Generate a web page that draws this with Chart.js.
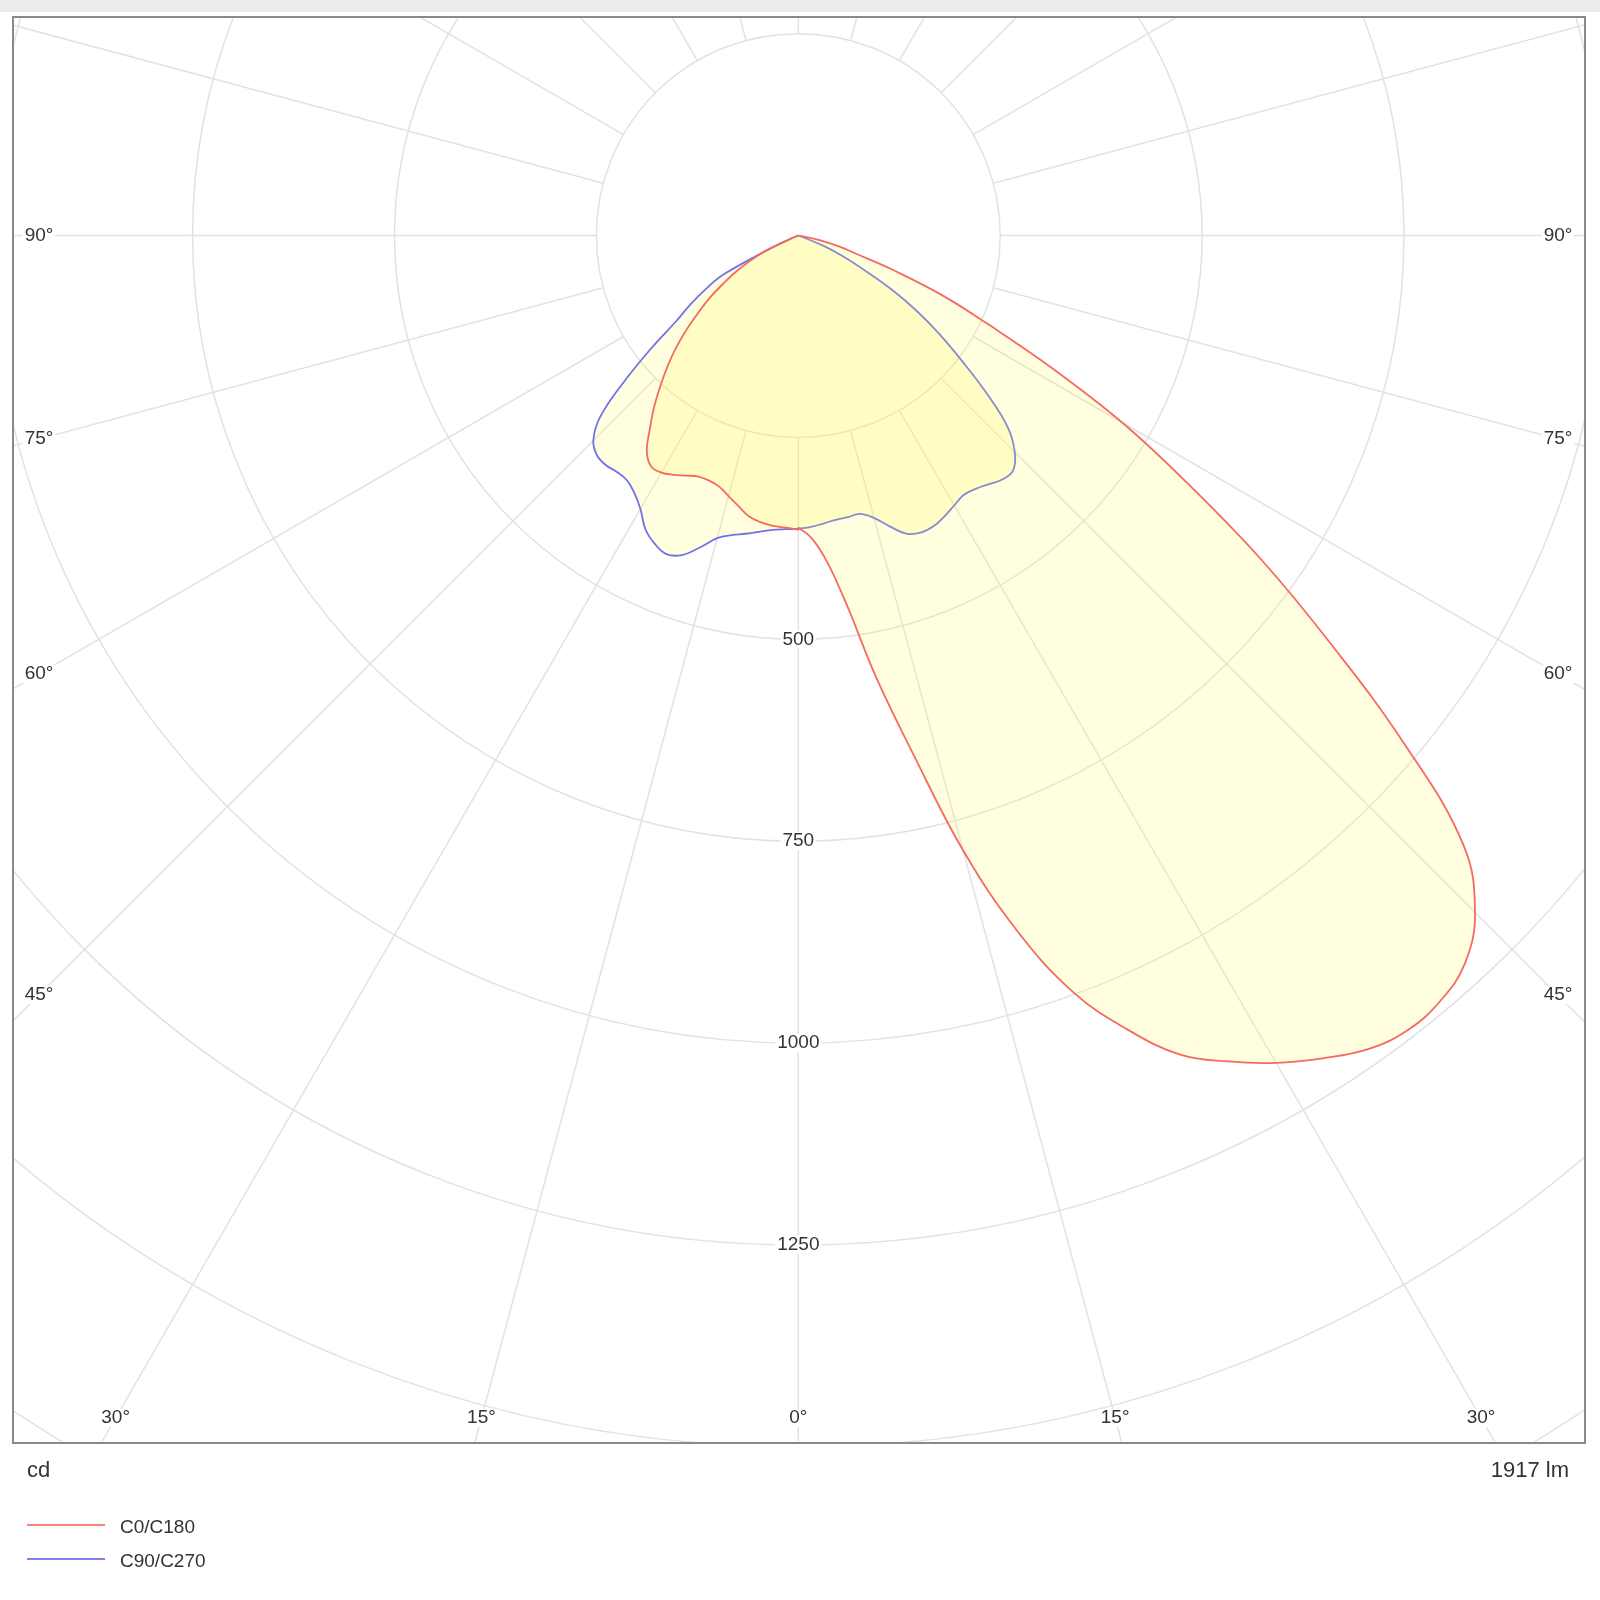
<!DOCTYPE html>
<html lang="en">
<head>
<meta charset="UTF-8">
<title>Polar intensity diagram</title>
<script src="https://cdn.jsdelivr.net/npm/chart.js"></script>
<style>
  body { margin: 0; background: #fff; font-family: "Liberation Sans", Arial, sans-serif; color: #333; }
  #wrap { position: relative; width: 1600px; height: 1600px; overflow: hidden; }
  #topbar { position: absolute; left: 0; top: 0; width: 1600px; height: 12px; background: #ececec; }
  canvas { position: absolute; left: 0; top: 0; }
  .note { position: absolute; top: 1457px; font-size: 22px; line-height: 26px; }
  .leg { position: absolute; left: 27px; width: 78px; height: 2px; }
  .legtxt { position: absolute; left: 120px; font-size: 19px; line-height: 22px; }
</style>
</head>
<body>
<div id="wrap">
  <div id="topbar"></div>
  <canvas id="polar" width="1600" height="1600"></canvas>
  <div class="note" style="left:27px">cd</div>
  <div class="note" style="right:31px">1917 lm</div>
  <div class="leg" style="top:1524px;background:#f8807a"></div>
  <div class="legtxt" style="top:1516px">C0/C180</div>
  <div class="leg" style="top:1558px;background:#8282ee"></div>
  <div class="legtxt" style="top:1550px">C90/C270</div>
</div>

<script>
// gamma angles (degrees from nadir) and intensities in cd
const gamma = [0, 2.5, 5, 7.5, 10, 12.5, 15, 17.5, 20, 22.5, 25, 27.5, 30, 32.5, 35, 37.5, 40, 42.5, 45,
    47.5, 50, 52.5, 55, 57.5, 60, 62.5, 65, 67.5, 70, 72.5, 75, 77.5, 80, 82.5, 85, 87.5, 90];
const c0 = [362, 375, 405, 462, 556, 658, 788, 904, 998, 1064, 1119, 1153, 1183, 1208, 1230, 1240, 1237, 1222, 1185,
    1117, 980, 832, 700, 572, 463, 351, 258, 192, 125, 75, 52, 28, 6, 0, 0, 0, 0];
const c180 = [364, 362, 361, 358, 353, 343, 334, 326, 323, 323, 328, 334, 339, 339, 327, 302, 278, 253, 229,
    205, 180, 155, 133, 109, 88, 66, 45, 10, 2, 0, 0, 0, 0, 0, 0, 0, 0];
const c90 = [363, 361, 358, 355, 354, 353, 362, 378, 393, 398, 397, 392, 386, 381, 383, 388, 394, 394, 379,
    352, 305, 256, 214, 174, 133, 91, 62, 36, 8, 2, 0, 0, 0, 0, 0, 0, 0];
const c270 = [363, 364, 366, 370, 375, 380, 388, 405, 421, 427, 421, 410, 391, 378, 370, 369, 371, 369, 359,
    333, 282, 230, 184, 158, 132, 104, 37, 8, 1, 0, 0, 0, 0, 0, 0, 0, 0];

const gridRadii = [250, 500, 750, 1000, 1250, 1500, 1750];
const radialTicks = [500, 750, 1000, 1250];
const sideAngles = [90, 75, 60, 45];
const bottomAngles = [0, 15, 30];
const spokeStep = 15;

// left half goes from the top down to nadir, right half back up
function loop(left, right) {
    const pts = [];
    for (let i = gamma.length - 1; i >= 0; i--) {
        const a = gamma[i] * Math.PI / 180;
        pts.push({ x: -left[i] * Math.sin(a), y: -left[i] * Math.cos(a) });
    }
    for (let i = 0; i < gamma.length; i++) {
        const a = gamma[i] * Math.PI / 180;
        pts.push({ x: right[i] * Math.sin(a), y: -right[i] * Math.cos(a) });
    }
    return pts;
}

const polarGrid = {
    id: 'polarGrid',
    beforeDatasetsDraw(chart) {
        const { ctx, chartArea: a, scales: { x, y } } = chart;
        const cx = x.getPixelForValue(0), cy = y.getPixelForValue(0);
        const k = x.getPixelForValue(1) - cx;
        ctx.save();
        ctx.beginPath();
        ctx.rect(a.left, a.top, a.right - a.left, a.bottom - a.top);
        ctx.clip();
        ctx.strokeStyle = '#e2e2e2';
        ctx.lineWidth = 1.5;
        gridRadii.forEach(r => {
            ctx.beginPath();
            ctx.arc(cx, cy, r * k, 0, 2 * Math.PI);
            ctx.stroke();
        });
        const r0 = gridRadii[0] * k, r1 = 3000 * k;
        for (let d = 0; d < 360; d += spokeStep) {
            const t = d * Math.PI / 180;
            ctx.beginPath();
            ctx.moveTo(cx + r0 * Math.sin(t), cy + r0 * Math.cos(t));
            ctx.lineTo(cx + r1 * Math.sin(t), cy + r1 * Math.cos(t));
            ctx.stroke();
        }
        ctx.restore();
    },
    afterDatasetsDraw(chart) {
        const { ctx, chartArea: a, scales: { x, y } } = chart;
        const cx = x.getPixelForValue(0), cy = y.getPixelForValue(0);
        ctx.save();
        ctx.font = '19px "Liberation Sans", Arial, sans-serif';
        ctx.textAlign = 'center';
        ctx.textBaseline = 'middle';
        const label = (txt, px, py) => {
            const w = ctx.measureText(txt).width;
            ctx.fillStyle = '#fff';
            ctx.fillRect(px - w / 2 - 2, py - 9, w + 4, 18);
            ctx.fillStyle = '#333';
            ctx.fillText(txt, px, py);
        };
        radialTicks.forEach(r => label(String(r), cx, y.getPixelForValue(-r)));
        const xl = a.left + 26, xr = a.right - 27, yb = a.bottom - 25;
        sideAngles.forEach(d => {
            const t = Math.tan(d * Math.PI / 180);
            label(d + '°', xl, cy + (cx - xl) / t);
            label(d + '°', xr, cy + (xr - cx) / t);
        });
        bottomAngles.forEach(d => {
            const off = (yb - cy) * Math.tan(d * Math.PI / 180);
            label(d + '°', cx - off, yb);
            if (d > 0) label(d + '°', cx + off, yb);
        });
        // frame
        ctx.strokeStyle = '#8a8a8a';
        ctx.lineWidth = 2;
        ctx.strokeRect(a.left, a.top, a.right - a.left, a.bottom - a.top);
        ctx.restore();
    }
};

new Chart(document.getElementById('polar'), {
    type: 'scatter',
    data: {
        datasets: [{
            label: 'C0/C180',
            data: loop(c180, c0),
            showLine: true,
            borderColor: '#f36b62',
            backgroundColor: 'rgba(255, 252, 72, 0.18)',
            borderWidth: 1.8,
            pointRadius: 0,
            tension: 0.4,
            fill: 'shape'
        }, {
            label: 'C90/C270',
            data: loop(c270, c90),
            showLine: true,
            borderColor: '#7272e8',
            backgroundColor: 'rgba(255, 252, 72, 0.18)',
            borderWidth: 1.8,
            pointRadius: 0,
            tension: 0.4,
            fill: 'shape'
        }]
    },
    options: {
        responsive: false,
        devicePixelRatio: 1,
        animation: false,
        layout: { padding: { left: 13, top: 17, right: 15, bottom: 157 } },
        plugins: { legend: { display: false }, tooltip: { enabled: false } },
        events: [],
        scales: {
            x: { type: 'linear', min: -972.4, max: 974.1, display: false },
            y: { type: 'linear', min: -1495.2, max: 270.6, display: false }
        }
    },
    plugins: [polarGrid]
});
</script>
</body>
</html>
